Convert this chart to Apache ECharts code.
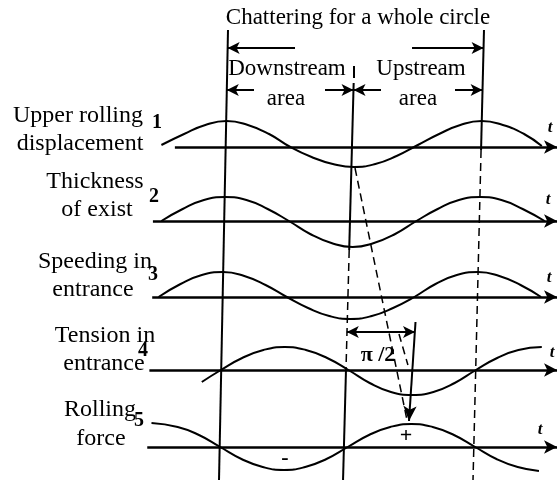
<!DOCTYPE html>
<html>
<head>
<meta charset="utf-8">
<script src="https://cdn.jsdelivr.net/npm/echarts@6/dist/echarts.min.js"></script>
<style>
html, body { margin: 0; padding: 0; background: #fff; }
#chart { width: 558px; height: 483px; }
</style>
</head>
<body>
<div id="chart"></div>
<script>
// x = phase in degrees (0 = left guide line, 360 = right guide line)
// wave values = offset above the row's time axis
var phase1 = [-92, -60, -30, 0, 30, 60, 90, 120, 150, 180, 210, 240, 270, 300, 330, 360, 390, 420, 445];
var wave1  = [2, 13, 22, 26, 22, 13, 0, -10, -17, -20, -17, -9, 2, 13, 22, 26, 22, 13, 1];

var phase2 = [-90, -60, -30, 0, 30, 60, 90, 120, 150, 180, 210, 240, 270, 300, 330, 360, 390, 420, 451];
var wave2  = [0, 12, 21, 24, 21, 12, 0, -13, -22, -26, -22, -13, 0, 12, 21, 24, 21, 12, 0];

var phase3 = [-91, -60, -30, 0, 30, 60, 90, 120, 150, 180, 210, 240, 270, 300, 330, 360, 390, 420, 449];
var wave3  = [0, 13, 22, 25, 21, 12, 0, -11, -19, -22, -19, -11, 0, 13, 22, 25, 21, 12, 0];

var phase4 = [-27, 0, 30, 60, 90, 120, 150, 180, 210, 240, 270, 300, 330, 360, 390, 420, 453];
var wave4  = [-12, 0, 12, 20, 23, 20, 12, 0, -13, -22, -25, -22, -13, 0, 12, 20, 23];

var phase5 = [-97, -60, -30, 0, 30, 60, 90, 120, 150, 180, 210, 240, 270, 300, 330, 360, 390, 420, 450];
var wave5  = [24, 20, 12, 0, -12, -20, -23, -20, -12, 0, 12, 20, 23, 20, 12, 0, -12, -20, -24];

var rowNames = [['Upper rolling', 'displacement'], ['Thickness', 'of exist'],
                ['Speeding in', 'entrance'], ['Tension in', 'entrance'], ['Rolling', 'force']];
var rowNums = ['1', '2', '3', '4', '5'];

// layout (the scan is slightly rotated, so rows are shifted a bit)
var PX = 255 / 360;
var X0 = 228;
var rowBase = [147, 221, 297, 370, 447];
var rowLag = [-2, -4, -7, -10, -11];
var axisStart = [-75, -106, -107, -111, -114];
var axisEnd = 464.5;
var leftGuide = [0, 30, -12.7, 480];
var midGuide = [177.9, 70, 162.4, 480];
var rightGuide = [361.4, 30, 345.9, 480];

function along(g, y) {
  return g[0] + (g[2] - g[0]) * (y - g[1]) / (g[3] - g[1]);
}
function seg(g, y1, y2) {
  return [{coord: [along(g, y1), y1]}, {coord: [along(g, y2), y2]}];
}
function arrow(x1, y1, x2, y2, both, size) {
  size = size || [9, 12];
  return [
    {coord: [x1, y1], symbol: both ? 'arrow' : 'none', symbolSize: size},
    {coord: [x2, y2], symbol: 'arrow', symbolSize: size}
  ];
}
function plain(x1, y1, x2, y2) {
  return [{coord: [x1, y1]}, {coord: [x2, y2]}];
}

var chart = echarts.init(document.getElementById('chart'));

var series = [];
[[phase1, wave1], [phase2, wave2], [phase3, wave3], [phase4, wave4], [phase5, wave5]].forEach(function (w, i) {
  series.push({
    type: 'line',
    smooth: 0.5,
    symbol: 'none',
    silent: true,
    lineStyle: {color: '#000', width: 2},
    data: w[0].map(function (p, j) { return [p + rowLag[i], rowBase[i] - w[1][j]]; })
  });
});

function marks(lineStyle, data) {
  return {
    type: 'line',
    data: [],
    silent: true,
    markLine: {
      silent: true,
      animation: false,
      symbol: ['none', 'none'],
      label: {show: false},
      emphasis: {disabled: true},
      lineStyle: lineStyle,
      data: data
    }
  };
}

// time axes with arrows
var axisLines = rowBase.map(function (y, i) {
  return arrow(axisStart[i], y, axisEnd, y, false, [10, 13]);
});
series.push(marks({color: '#000', width: 2.5, type: 'solid'}, axisLines));

// solid guides and annotation arrows
series.push(marks({color: '#000', width: 2, type: 'solid'}, [
  seg(leftGuide, 30, 480),
  seg(midGuide, 66, 78),
  seg(midGuide, 83, 250),
  seg(midGuide, 368, 480),
  seg(rightGuide, 30, 150),
  arrow(94.6, 48, -0.5, 48),
  arrow(259.8, 48, 360.8, 48),
  arrow(36.7, 90, -1.7, 90),
  arrow(136.9, 90, 177.2, 90),
  arrow(216, 90, 177.2, 90),
  arrow(320.5, 90, 359.4, 90),
  arrow(167.7, 332, 264, 332, true),
  arrow(264.7, 322, 255.5, 421, false, [10, 15])
]));

// dashed guides
series.push(marks({color: '#000', width: 1.5, type: [8, 5]}, [
  seg(midGuide, 250, 368),
  seg(rightGuide, 150, 480),
  plain(179.3, 168, 252.7, 420),
  plain(241.4, 334, 254, 365)
]));

var serif = '"Liberation Serif", "Times New Roman", serif';
var texts = [];
function txt(s, x, y, font) {
  texts.push({
    type: 'text', silent: true,
    style: {text: s, x: x, y: y, font: font, fill: '#000',
            align: 'center', verticalAlign: 'middle',
            textAlign: 'center', textVerticalAlign: 'middle'}
  });
}
var labelPos = [[78, 124, 80, 152], [95, 190, 97, 218], [95, 270, 93, 298],
                [105, 344, 104, 372], [100, 418, 101, 447]];
var numPos = [[157, 123], [154, 197], [153, 275], [143, 351], [139, 421]];
var tPos = [[550, 128], [548, 200], [549, 278], [552, 353], [540, 430]];
rowNames.forEach(function (n, i) {
  var p = labelPos[i];
  txt(n[0], p[0], p[1] - 8, '24px ' + serif);
  txt(n[1], p[2], p[3] - 8, '24px ' + serif);
  txt(rowNums[i], numPos[i][0], numPos[i][1], 'bold 20px ' + serif);
  txt('t', tPos[i][0], tPos[i][1], 'italic bold 17px ' + serif);
});
txt('Chattering for a whole circle', 358, 18, '23px ' + serif);
txt('Downstream', 287, 69, '23px ' + serif);
txt('Upstream', 421, 69, '23px ' + serif);
txt('area', 286, 99, '23px ' + serif);
txt('area', 418, 99, '23px ' + serif);
txt('\u03c0 /2', 378, 355, 'bold 22px ' + serif);
txt('+', 406, 436, 'bold 22px ' + serif);
txt('-', 285, 458, 'bold 22px ' + serif);

chart.setOption({
  animation: false,
  backgroundColor: '#fff',
  grid: {left: 0, right: 0, top: 0, bottom: 0},
  xAxis: {type: 'value', min: -X0 / PX, max: (558 - X0) / PX, show: false},
  yAxis: {type: 'value', min: 0, max: 483, inverse: true, show: false},
  series: series,
  graphic: texts
});
</script>
</body>
</html>
